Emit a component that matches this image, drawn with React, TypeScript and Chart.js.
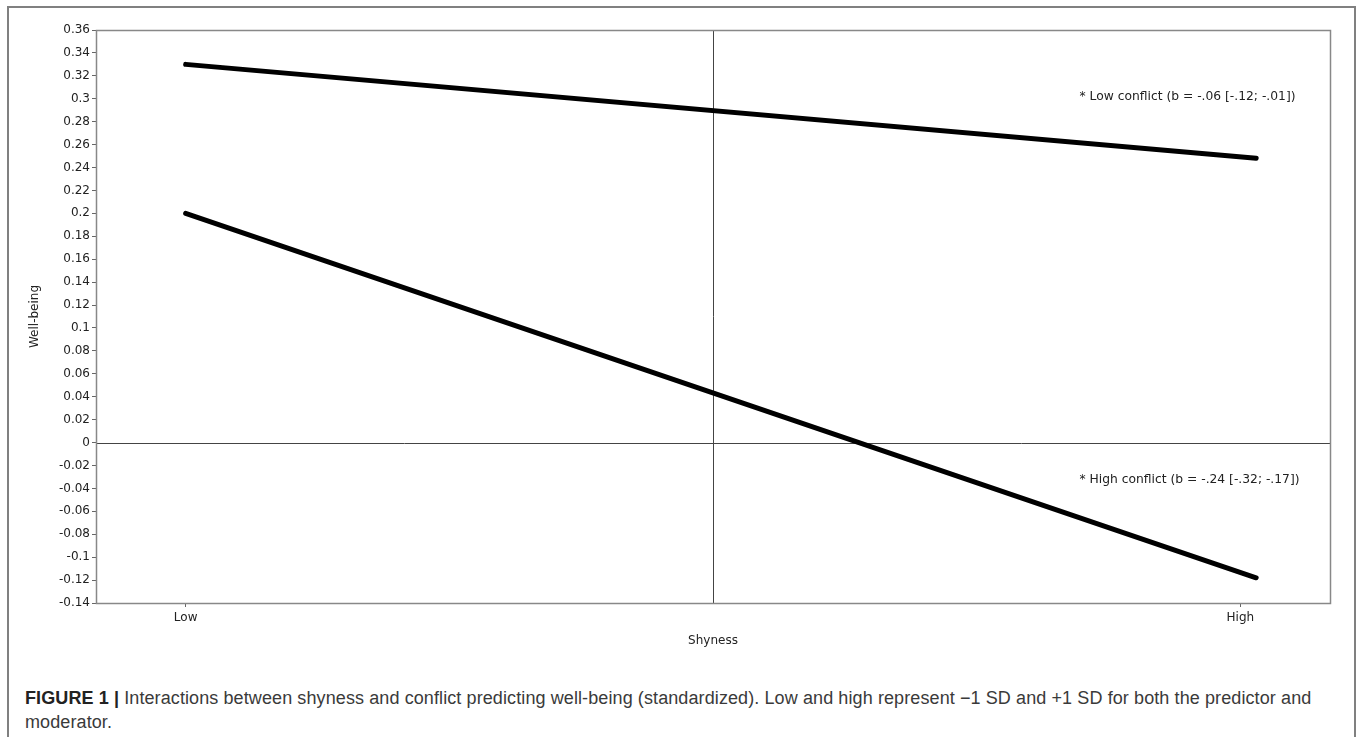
import React, { useEffect, useRef } from 'react';
import { Chart, registerables } from 'chart.js';

Chart.register(...registerables);

// ---- data ----
const xTickValues = [-1, 1];
const xTickLabels = ['Low', 'High'];
const lineX = [-1, 1.03];
const lowConflict = [0.33, 0.248];
const highConflict = [0.2, -0.118];
const yMin = -0.14;
const yMax = 0.36;
const yStep = 0.02;
const xMin = -1.17;
const xMax = 1.17;
const annotations = [
  { text: '* Low conflict (b = -.06 [-.12; -.01])', x: 0.695, y: 0.3015 },
  { text: '* High conflict (b = -.24 [-.32; -.17])', x: 0.695, y: -0.0327 },
];

const FONT = "'DejaVu Sans', sans-serif";

const framePlugin = {
  id: 'frame',
  beforeDatasetsDraw(chart: any) {
    const { ctx, chartArea: a, scales } = chart;
    ctx.save();
    ctx.strokeStyle = '#444';
    ctx.lineWidth = 1;
    const x0 = Math.round(scales.x.getPixelForValue(0)) + 0.5;
    const y0 = Math.round(scales.y.getPixelForValue(0)) + 0.5;
    ctx.beginPath();
    ctx.moveTo(x0, a.top);
    ctx.lineTo(x0, a.bottom);
    ctx.moveTo(a.left, y0);
    ctx.lineTo(a.right, y0);
    ctx.stroke();
    ctx.strokeStyle = '#888';
    ctx.lineWidth = 1.5;
    ctx.strokeRect(Math.round(a.left) + 0.5, Math.round(a.top) + 0.5, Math.round(a.right - a.left), Math.round(a.bottom - a.top));
    ctx.restore();
  },
  afterDatasetsDraw(chart: any) {
    const { ctx, scales } = chart;
    ctx.save();
    ctx.font = `12.3px ${FONT}`;
    ctx.fillStyle = '#222';
    ctx.textAlign = 'left';
    ctx.textBaseline = 'middle';
    annotations.forEach((an) => {
      ctx.fillText(an.text, scales.x.getPixelForValue(an.x), scales.y.getPixelForValue(an.y));
    });
    ctx.restore();
  },
};

function ChartView() {
  const ref = useRef<HTMLCanvasElement | null>(null);
  useEffect(() => {
    if (!ref.current) return;
    const chart = new Chart(ref.current, {
      type: 'line',
      data: {
        datasets: [
          {
            label: 'Low conflict',
            data: lineX.map((x, i) => ({ x, y: lowConflict[i] })),
            borderColor: '#000',
            borderWidth: 5,
            borderCapStyle: 'round',
            pointRadius: 0,
            fill: false,
          },
          {
            label: 'High conflict',
            data: lineX.map((x, i) => ({ x, y: highConflict[i] })),
            borderColor: '#000',
            borderWidth: 5,
            borderCapStyle: 'round',
            pointRadius: 0,
            fill: false,
          },
        ],
      },
      options: {
        animation: false,
        responsive: true,
        maintainAspectRatio: false,
        layout: { padding: { left: 0, right: 26, top: 22, bottom: 0 } },
        plugins: { legend: { display: false }, tooltip: { enabled: false } },
        scales: {
          x: {
            type: 'linear',
            min: xMin,
            max: xMax,
            afterBuildTicks: (axis: any) => {
              axis.ticks = xTickValues.map((v) => ({ value: v }));
            },
            afterFit: (axis: any) => {
              axis.height = 57;
            },
            ticks: {
              font: { family: FONT, size: 12 },
              color: '#222',
              padding: 4,
              maxRotation: 0,
              autoSkip: false,
              callback: (value: any) => {
                const i = xTickValues.indexOf(Number(value));
                return i >= 0 ? xTickLabels[i] : '';
              },
            },
            grid: { drawOnChartArea: false, drawTicks: true, tickLength: 4, color: '#666' },
            border: { display: false },
            title: {
              display: true,
              text: 'Shyness',
              font: { family: FONT, size: 12 },
              color: '#222',
              padding: { top: 0, bottom: 12 },
            },
          },
          y: {
            type: 'linear',
            min: yMin,
            max: yMax,
            afterFit: (axis: any) => {
              axis.width = 86;
            },
            ticks: {
              stepSize: yStep,
              font: { family: FONT, size: 12 },
              color: '#222',
              padding: 2,
              autoSkip: false,
              callback: (value: any) => String(Number(Number(value).toFixed(2))),
            },
            grid: { drawOnChartArea: false, drawTicks: true, tickLength: 4, color: '#666' },
            border: { display: false },
            title: {
              display: true,
              text: 'Well-being',
              font: { family: FONT, size: 12 },
              color: '#222',
              padding: { top: 18, bottom: 0 },
            },
          },
        },
      },
      plugins: [framePlugin],
    } as any);
    return () => chart.destroy();
  }, []);
  return <canvas ref={ref} />;
}

export default function App() {
  return (
    <div style={{ position: 'absolute', left: 0, top: 0, width: 1358, height: 737, overflow: 'hidden', background: '#fff' }}>
      <div
        style={{
          position: 'absolute',
          left: 7,
          top: 6,
          width: 1349,
          height: 760,
          boxSizing: 'border-box',
          border: '2px solid #808080',
        }}
      />
      <div style={{ position: 'absolute', left: 10, top: 8, width: 1346, height: 652 }}>
        <ChartView />
      </div>
      <div
        style={{
          position: 'absolute',
          left: 25,
          top: 686,
          width: 1325,
          fontFamily: "'Liberation Sans', Arial, sans-serif",
          fontSize: 18,
          letterSpacing: '0.1px',
          lineHeight: '24px',
          color: '#3a3a3a',
          whiteSpace: 'nowrap',
        }}
      >
        <span style={{ fontWeight: 'bold', color: '#222' }}>FIGURE 1 |</span> Interactions between shyness and conflict
        predicting well-being (standardized). Low and high represent −1 SD and +1 SD for both the predictor and
        <br />
        moderator.
      </div>
    </div>
  );
}
